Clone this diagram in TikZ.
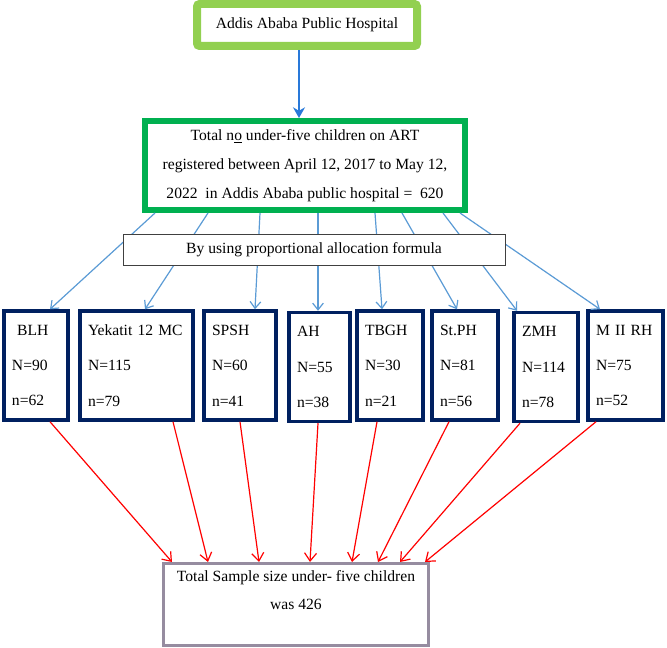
\documentclass[tikz,border=0pt]{standalone}
\usepackage{fontspec}
\setmainfont{Liberation Serif}
\usetikzlibrary{arrows.meta}

\definecolor{hospgreen}{RGB}{146,208,80}
\definecolor{totalgreen}{RGB}{0,176,80}
\definecolor{sitenavy}{RGB}{0,32,96}
\definecolor{mainblue}{RGB}{41,121,217}
\definecolor{feedblue}{RGB}{91,155,213}
\definecolor{sumgray}{RGB}{150,140,160}

\begin{document}
\begin{tikzpicture}
[
	x=0.75pt, y=-0.75pt,
	every node/.style={font=\fontsize{11.7}{14}\selectfont},
	sitebox/.style={draw=sitenavy,line width=2.6pt,align=left,inner xsep=6pt,minimum height=81.75pt,
		font=\fontsize{11.7}{26.6}\selectfont},
	mainarrow/.style={draw=mainblue,line width=2pt,-{Stealth[length=8pt,width=9pt]}},
	feed/.style={draw=feedblue,line width=0.9pt,-{Straight Barb[length=5pt,width=8pt]}},
	sumup/.style={draw=red,line width=0.9pt,-{Straight Barb[length=6pt,width=9pt]}}
]

	\useasboundingbox (0,0) rectangle (667,648);

	% top boxes
	\node[draw=hospgreen,line width=6pt,rounded corners=2pt,minimum width=165pt,minimum height=31.5pt]
	  (hosp) at (307,25) {Addis Ababa Public Hospital};
	\node[draw=totalgreen,line width=4.5pt,minimum width=240pt,minimum height=66.75pt,align=center,
	  font=\fontsize{11.7}{21.75}\selectfont] (total) at (305,165.5)
	  {Total n\underline{o} under-five children on ART\\
	   registered between April 12, 2017 to May 12,\\
	   2022~~in Addis Ababa public hospital =~~620};

	% hospital boxes
	\node[sitebox,minimum width=48pt,text width=36pt] (blh) at (36,365.5) {~BLH\\N=90\\n=62};
	\node[sitebox,minimum width=84.75pt,text width=72.75pt] (yekatit) at (136.5,365.5) {Yekatit 12 MC\\N=115\\n=79};
	\node[sitebox,minimum width=54pt,text width=42pt] (spsh) at (240,365.5) {SPSH\\N=60\\n=41};
	\node[sitebox,minimum width=45.75pt,text width=33.75pt] (ah) at (319.5,367) {AH\\N=55\\n=38};
	\node[sitebox,minimum width=49.5pt,text width=37.5pt] (tbgh) at (390,365.5) {TBGH\\N=30\\n=21};
	\node[sitebox,minimum width=49.5pt,text width=37.5pt] (stph) at (465,365.5) {St.PH\\N=81\\n=56};
	\node[sitebox,minimum width=48pt,text width=36pt] (zmh) at (546,367) {ZMH\\N=114\\n=78};
	\node[sitebox,minimum width=56.25pt,text width=44.25pt] (mrh) at (625.5,365.5) {M II RH\\N=75\\n=52};

	% sample size box
	\node[draw=sumgray,line width=2.25pt,minimum width=198.75pt,minimum height=61.5pt,align=center,
	  font=\fontsize{11.7}{21}\selectfont] (sample) at (296,604.5)
	  {Total Sample size under- five children\\was 426\\\mbox{}};

	% arrows
	\draw[mainarrow] (hosp.south -| 299,0) -- (total.north -| 299,0);
	\foreach \a/\s/\b in {155/blh/50,208/yekatit/145,260/spsh/255,318/ah/318,
		375/tbgh/382,402/stph/457,443/zmh/517,460/mrh/600} {
		\draw[feed] (total.south -| \a,0) -- (\s.north -| \b,0);
	}
	\foreach \a/\s/\b in {50/blh/172,173/yekatit/208,240/spsh/259,318/ah/310,
		377/tbgh/352,449/stph/378,520/zmh/400,596/mrh/425} {
		\draw[sumup] (\s.south -| \a,0) -- (sample.north -| \b,0);
	}

	% allocation box over the arrows
	\node[draw=black!75,line width=0.6pt,fill=white,minimum width=286.5pt,minimum height=23.25pt]
	  (alloc) at (314,249.5) {By using proportional allocation formula};

\end{tikzpicture}
\end{document}
